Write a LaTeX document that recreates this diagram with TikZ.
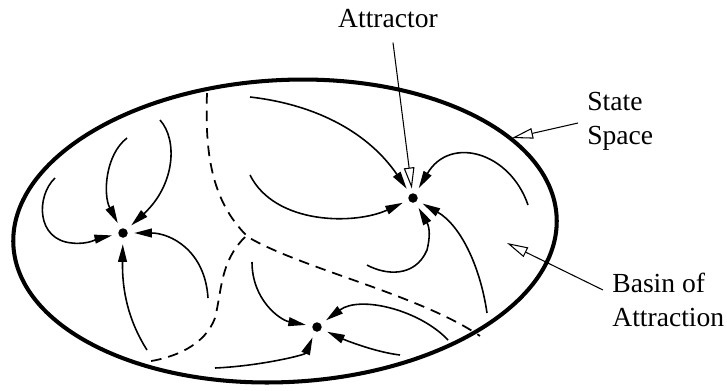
\documentclass[tikz,border=0pt]{standalone}
\usepackage{fontspec}
\setmainfont{Liberation Serif}
\usetikzlibrary{arrows.meta}

\begin{document}
\begin{tikzpicture}[x=0.02cm, y=-0.02cm,
    flow/.style={line width=0.9pt, -{Triangle[length=10pt,width=5pt]}, shorten >=3.5pt},
    boundary/.style={line width=1pt, dash pattern=on 6pt off 4pt},
    pointer/.style={line width=0.6pt, -{Triangle[open,length=12pt,width=6pt,fill=white]}},
    attractor/.style={circle, fill, inner sep=0pt, minimum size=0.19cm},
    lbltext/.style={inner sep=0pt, align=left, font=\fontsize{15.7}{19.5}\selectfont}]
  \useasboundingbox (0,0) rectangle (727,390);
  % state space (pixel units, y downwards)
  \draw[line width=2.3pt, rotate around={3:(285,231)}] (285,231) ellipse [x radius=272, y radius=151];
  % the three attractors
  \node[attractor] (a1) at (123,233) {};
  \node[attractor] (a2) at (413,198) {};
  \node[attractor] (a3) at (317,327) {};
  % basin boundaries
  \draw[boundary] (207,93) .. controls (205,150) and (210,200) .. (248,237)
                  .. controls (300,268) and (420,295) .. (480,336);
  \draw[boundary] (245,237) .. controls (220,262) and (222,290) .. (215,318)
                  .. controls (205,345) and (175,358) .. (145,362);
  % flows into the left attractor
  \draw[flow] (55,178) .. controls (36,196) and (36,240) .. (72,243)
              .. controls (88,245) and (100,238) .. (a1);
  \draw[flow] (127,138) .. controls (105,155) and (103,195) .. (a1);
  \draw[flow] (160,120) .. controls (178,140) and (175,185) .. (a1);
  \draw[flow] (208,298) .. controls (205,250) and (170,233) .. (a1);
  \draw[flow] (147,350) .. controls (128,320) and (122,290) .. (a1);
  % flows into the upper attractor
  \draw[flow] (250,97) .. controls (320,105) and (370,135) .. (a2);
  \draw[flow] (528,205) .. controls (510,152) and (450,135) .. (a2);
  \draw[flow] (250,175) .. controls (275,225) and (355,225) .. (a2);
  \draw[flow] (367,265) .. controls (385,275) and (415,278) .. (427,250)
              .. controls (430,238) and (430,228) .. (a2);
  \draw[flow] (487,313) .. controls (480,265) and (460,225) .. (a2);
  % flows into the lower attractor
  \draw[flow] (252,262) .. controls (252,300) and (280,320) .. (a3);
  \draw[flow] (448,340) .. controls (420,310) and (360,295) .. (a3);
  \draw[flow] (400,355) .. controls (375,352) and (345,340) .. (a3);
  \draw[flow] (215,368) .. controls (260,366) and (305,355) .. (a3);
  % labels and pointers
  \node[lbltext, anchor=base] (attr) at (388,27) {Attractor};
  \node[lbltext, anchor=west] (ss) at (587,121) {State\\Space};
  \node[lbltext, anchor=west] (boa) at (612,300) {Basin of\\Attraction};
  \coordinate (ssTip) at (512,138);
  \coordinate (boaTip) at (507,243);
  \draw[pointer, shorten >=2.5pt] ([shift={(5,15)}]attr.south) -- (a2);
  \draw[pointer] ([shift={(-9,2)}]ss.west) -- (ssTip);
  \draw[pointer] ([shift={(-9,-10)}]boa.west) -- (boaTip);
\end{tikzpicture}
\end{document}
